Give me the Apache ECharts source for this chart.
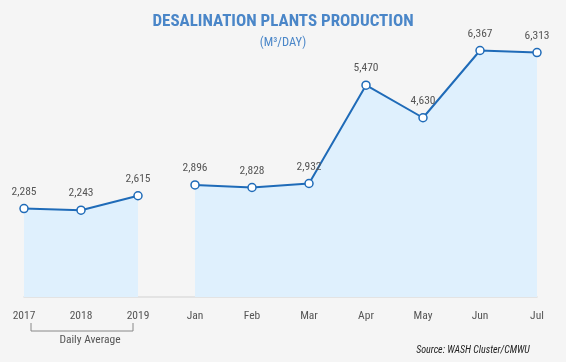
<!DOCTYPE html>
<html><head><meta charset="utf-8">
<script src="https://cdn.jsdelivr.net/npm/echarts@6/dist/echarts.min.js"></script>
<style>html,body{margin:0;padding:0;background:#f5f5f5}#c{width:566px;height:362px}</style>
</head><body><div id="c"></div>
<script>
const categories = ['2017','2018','2019','Jan','Feb','Mar','Apr','May','Jun','Jul'];
const averageValues = [2285, 2243, 2615, null, null, null, null, null, null, null];
const monthlyValues = [null, null, null, 2896, 2828, 2932, 5470, 4630, 6367, 6313];
const titleText = 'DESALINATION PLANTS PRODUCTION';
const subtitleText = '(M³/DAY)';
const bracketLabel = 'Daily Average';
const sourceText = 'Source: WASH Cluster/CMWU';

const FONT = '"Roboto Condensed","Liberation Sans Narrow","Roboto",sans-serif';
const chart = echarts.init(document.getElementById('c'), null, {renderer:'canvas'});
function mkSeries(data){
  return {
    type:'line', data:data, connectNulls:false,
    symbol:'circle', symbolSize:8, showSymbol:true,
    itemStyle:{color:'#ffffff', borderColor:'#1f6bb8', borderWidth:1.5},
    lineStyle:{color:'#1f6bb8', width:2},
    areaStyle:{color:'#dff0fd', opacity:1},
    label:{show:true, position:'top', distance:6, color:'#555', fontSize:11.5, fontFamily:FONT,
      formatter:p=>p.value==null?'':Number(p.value).toLocaleString('en-US')},
    animation:false, z:3
  };
}
chart.setOption({
  backgroundColor:'#f5f5f5',
  animation:false,
  title:{text:titleText, subtext:subtitleText, left:'center', top:8, itemGap:6,
    textStyle:{color:'#4a86c8', fontSize:17, fontWeight:'bold', fontFamily:FONT},
    subtextStyle:{color:'#4a86c8', fontSize:12.5, fontFamily:FONT}},
  grid:{left:24, right:29, top:26, bottom:65},
  xAxis:{type:'category', data:categories, boundaryGap:false,
    axisLine:{lineStyle:{color:'#dddddd', width:1.5}}, axisTick:{show:false},
    axisLabel:{color:'#555', fontSize:11.5, fontFamily:FONT, margin:13}},
  yAxis:{type:'value', min:0, max:7000, show:false, splitLine:{show:false}},
  series:[mkSeries(averageValues), mkSeries(monthlyValues)],
  graphic:[
    {type:'polyline', shape:{points:[[31,323],[31,331],[133,331],[133,323]]}, style:{stroke:'#888', lineWidth:1, fill:null}},
    {type:'text', x:90, y:340, style:{text:bracketLabel, fill:'#555', font:'11.5px '+FONT, textAlign:'center', textVerticalAlign:'middle'}},
    {type:'text', x:473, y:350, style:{text:sourceText, fill:'#222', font:'italic 10px '+FONT, textAlign:'center', textVerticalAlign:'middle'}}
  ]
});
</script></body></html>
